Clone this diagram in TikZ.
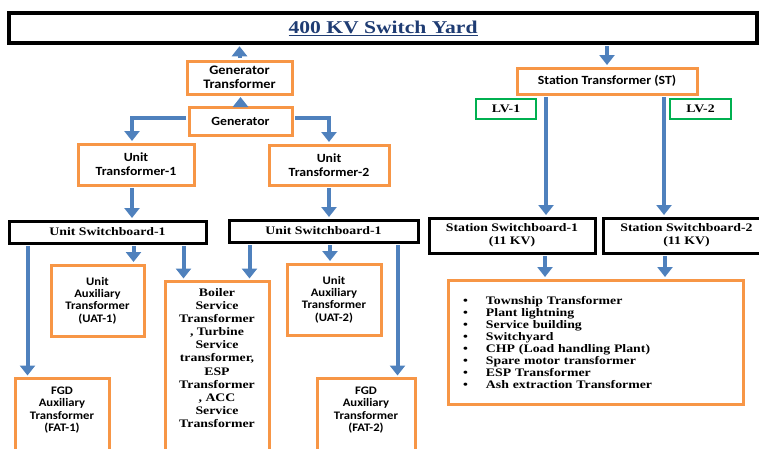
\documentclass[tikz,border=0pt]{standalone}
\usepackage{fontspec}
\setmainfont[FakeStretch=1.2]{Liberation Serif}
\newfontfamily\boxsans[FakeStretch=1.1]{Carlito}
\usetikzlibrary{arrows.meta}
\definecolor{boxorange}{HTML}{F79646}
\definecolor{linkblue}{HTML}{4F81BD}
\definecolor{lvgreen}{HTML}{00B050}
\definecolor{titleblue}{HTML}{1F3C73}

\begin{document}
\begin{tikzpicture}[x=1pt, y=-1pt,
    orange box/.style={draw=boxorange, line width=3pt, fill=white, align=center},
    black box/.style={draw=black, line width=3pt, fill=white, align=center, inner sep=1pt},
    green box/.style={draw=lvgreen, line width=2.5pt, align=center, inner sep=1pt},
    feed/.style={draw=linkblue, line width=4pt, -{Triangle[width=15pt,length=10pt]},
    shorten <=1.5pt, shorten >=1.5pt}]
    \useasboundingbox (0,0) rectangle (759,448);

    \node[black box, minimum width=748pt, minimum height=30pt, line width=3.5pt,
          font=\bfseries\fontsize{18}{20}\selectfont, text=titleblue] (yard) at (383,28)
          {\underline{400 KV Switch Yard}};

    % generator side
    \node[orange box, minimum width=105pt, minimum height=33pt, inner sep=1pt,
          font=\boxsans\bfseries\fontsize{13}{14}\selectfont] (gt) at (239.5,77.5) {Generator\\Transformer};
    \node[orange box, minimum width=103pt, minimum height=28pt,
          font=\boxsans\bfseries\fontsize{12.5}{13.7}\selectfont] (gen) at (240.5,121) {Generator};
    \node[orange box, minimum width=116pt, minimum height=41pt,
          font=\boxsans\bfseries\fontsize{12.5}{13.7}\selectfont] (ut1) at (136,164.5) {Unit\\Transformer-1};
    \node[orange box, minimum width=120pt, minimum height=40pt,
          font=\boxsans\bfseries\fontsize{12.5}{13.7}\selectfont] (ut2) at (329,165) {Unit\\Transformer-2};
    \node[black box, minimum width=197pt, minimum height=22pt,
          font=\bfseries\fontsize{11.5}{12.5}\selectfont] (usb1) at (107.5,232) {Unit Switchboard-1};
    \node[black box, minimum width=189pt, minimum height=22pt,
          font=\bfseries\fontsize{11.5}{12.5}\selectfont] (usb2) at (323.5,231) {Unit Switchboard-1};
    \node[orange box, minimum width=93pt, minimum height=71pt,
          font=\boxsans\bfseries\fontsize{11.5}{12.4}\selectfont] (uat1) at (97.5,300.5)
          {Unit\\Auxiliary\\Transformer\\(UAT-1)};
    \node[orange box, minimum width=94pt, minimum height=71pt,
          font=\boxsans\bfseries\fontsize{11.5}{12.4}\selectfont] (uat2) at (334,299.5)
          {Unit\\Auxiliary\\Transformer\\(UAT-2)};
    \node[orange box, anchor=north, minimum width=94pt, inner ysep=8pt,
          font=\boxsans\bfseries\fontsize{11.5}{12.5}\selectfont] (fat1) at (62,377)
          {\parbox[t][80pt][t]{86pt}{\centering FGD\\Auxiliary\\Transformer\\(FAT-1)}};
    \node[orange box, anchor=north, minimum width=98pt, inner ysep=8pt,
          font=\boxsans\bfseries\fontsize{11.5}{12.5}\selectfont] (fat2) at (366,377)
          {\parbox[t][80pt][t]{86pt}{\centering FGD\\Auxiliary\\Transformer\\(FAT-2)}};
    \node[orange box, anchor=north, minimum width=104pt, inner ysep=7pt,
          font=\bfseries\fontsize{11.5}{13.1}\selectfont] (boiler) at (217,280)
          {\parbox[t][170pt][t]{96pt}{\centering Boiler\\Service\\Transformer\\, Turbine\\Service\\transformer,\\ESP\\Transformer\\, ACC\\Service\\Transformer}};

    % station side
    \node[orange box, minimum width=180pt, minimum height=26pt,
          font=\boxsans\bfseries\fontsize{12.5}{13}\selectfont] (st) at (607,81) {Station Transformer (ST)};
    \node[green box, minimum width=60pt, minimum height=20pt,
          font=\bfseries\fontsize{11.5}{12}\selectfont] (lv1) at (506,109) {LV-1};
    \node[green box, minimum width=61pt, minimum height=20pt,
          font=\bfseries\fontsize{11.5}{12}\selectfont] (lv2) at (700.5,109) {LV-2};
    \node[black box, minimum width=166pt, minimum height=35pt,
          font=\bfseries\fontsize{11.5}{12.7}\selectfont] (ssb1) at (512,235.5) {Station Switchboard-1\\(11 KV)};
    \node[black box, minimum width=167pt, minimum height=35pt,
          font=\bfseries\fontsize{11.5}{12.7}\selectfont] (ssb2) at (686.5,235.5) {Station Switchboard-2\\(11 KV)};
    \node[orange box, minimum width=295pt, minimum height=124pt, text width=265pt, align=left,
          inner xsep=15pt, font=\bfseries\fontsize{11.5}{12}\selectfont] (loads) at (595.5,342)
          {\makebox[23pt][l]{\textbullet}Township Transformer\\
           \makebox[23pt][l]{\textbullet}Plant lightning\\
           \makebox[23pt][l]{\textbullet}Service building\\
           \makebox[23pt][l]{\textbullet}Switchyard\\
           \makebox[23pt][l]{\textbullet}CHP (Load handling Plant)\\
           \makebox[23pt][l]{\textbullet}Spare motor transformer\\
           \makebox[23pt][l]{\textbullet}ESP Transformer\\
           \makebox[23pt][l]{\textbullet}Ash extraction Transformer};

    % feeders
    \draw[feed] (gt.north) -- (gt.north |- yard.south);
    \draw[feed] (gen.north) -- (gen.north |- gt.south);
    \draw[feed] ([yshift=3pt]gen.west) -| ([xshift=-4pt]ut1.north);
    \draw[feed] ([yshift=3pt]gen.east) -| (ut2.north);
    \draw[feed] ([xshift=-4pt]ut1.south) -- ([xshift=-4pt]ut1.south |- usb1.north);
    \draw[feed] (ut2.south) -- (ut2.south |- usb2.north);
    \draw[feed] ([xshift=14pt]fat1.north west |- usb1.south) -- ([xshift=14pt]fat1.north west);
    \draw[feed] ([xshift=-12pt]uat1.north east |- usb1.south) -- ([xshift=-12pt]uat1.north east);
    \draw[feed] ([xshift=20pt]boiler.north west |- usb1.south) -- ([xshift=20pt]boiler.north west);
    \draw[feed] ([xshift=-21pt]boiler.north east |- usb2.south) -- ([xshift=-21pt]boiler.north east);
    \draw[feed] ([xshift=-4pt]uat2.north |- usb2.south) -- ([xshift=-4pt]uat2.north);
    \draw[feed] ([xshift=-19pt]fat2.north east |- usb2.south) -- ([xshift=-19pt]fat2.north east);

    \draw[feed] (st.north |- yard.south) -- (st.north);
    \draw[feed] ([xshift=-61pt]st.south) -- ([xshift=-61pt]st.south |- ssb1.north);
    \draw[feed] ([xshift=57pt]st.south) -- ([xshift=57pt]st.south |- ssb2.north);
    \draw[feed] ([xshift=33pt]ssb1.south) -- ([xshift=33pt]ssb1.south |- loads.north);
    \draw[feed] ([xshift=-21.5pt]ssb2.south) -- ([xshift=-21.5pt]ssb2.south |- loads.north);
\end{tikzpicture}
\end{document}
